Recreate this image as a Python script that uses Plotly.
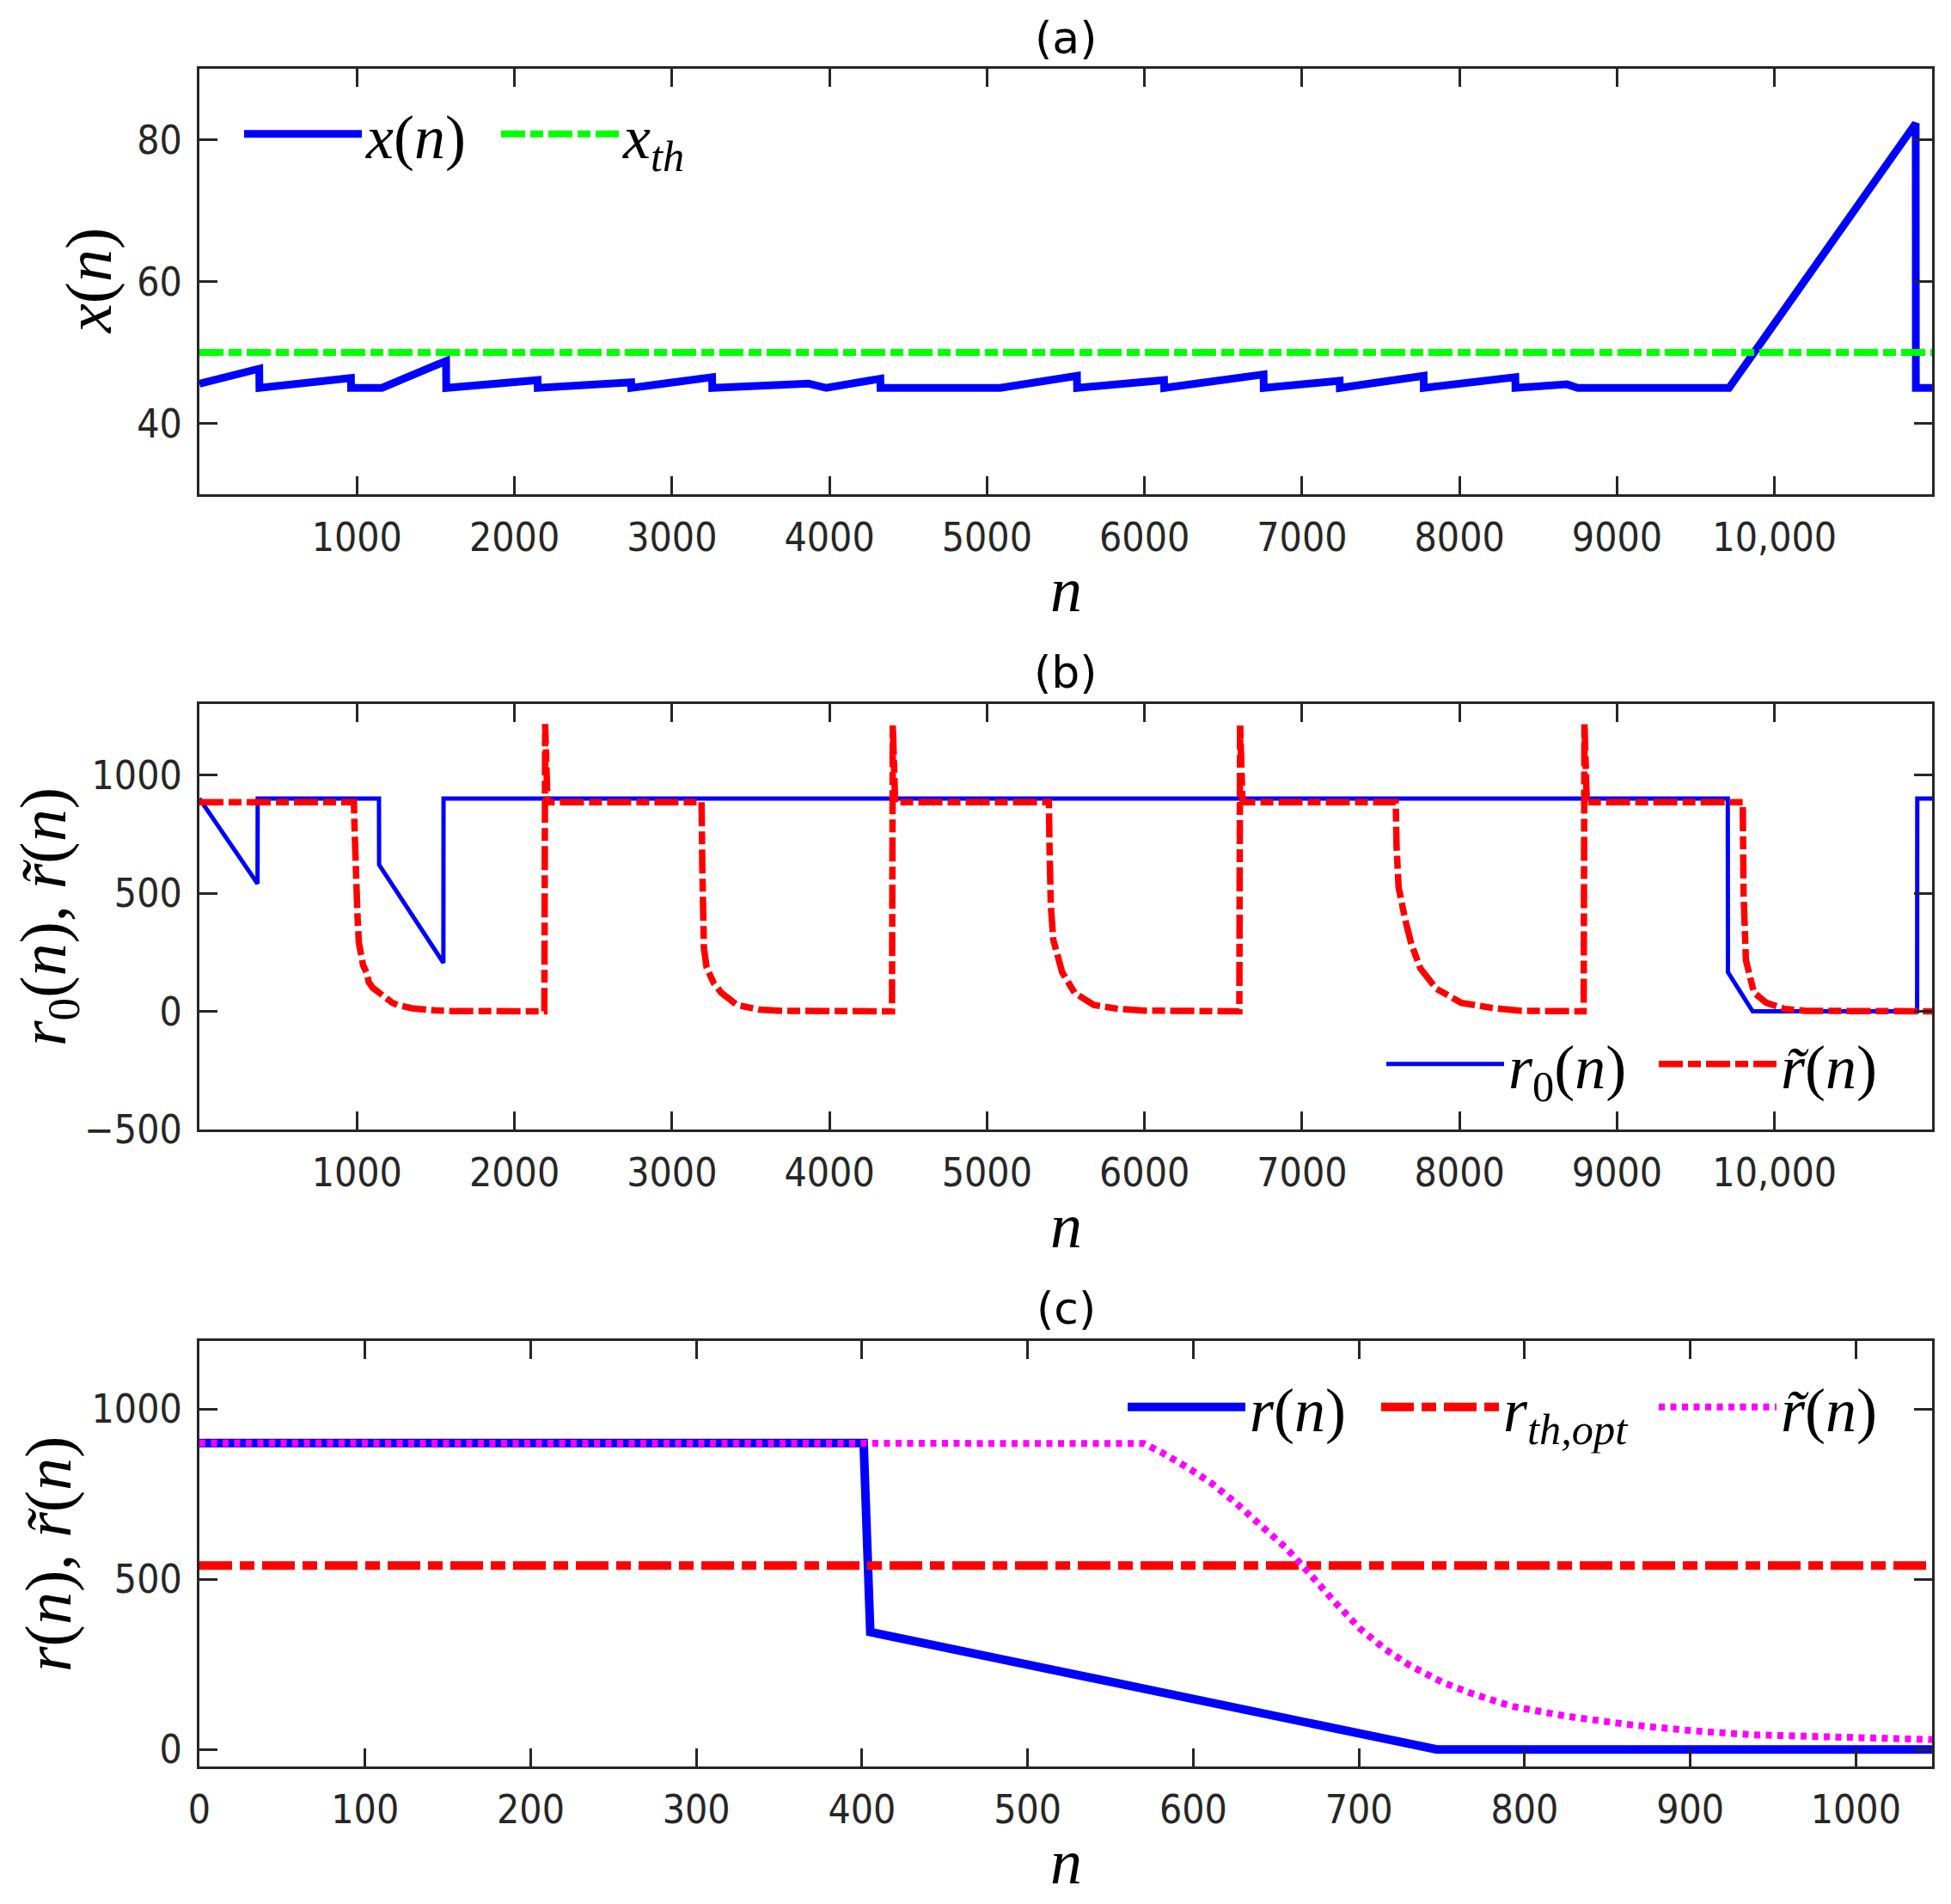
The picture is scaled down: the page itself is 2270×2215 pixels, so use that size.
import plotly.graph_objects as go

W, H = 2270, 2215

# ---------------- panel (a) data ----------------
n_a = [0, 380, 381, 962, 963, 1159, 1566, 1567, 2147, 2148, 2741, 2742, 3255, 3256,
       3868, 3980, 4323, 4324, 5085, 5571, 5572, 6124, 6125, 6756, 6757, 7239, 7240,
       7772, 7773, 8354, 8355, 8683, 8750, 9711, 10896, 10897, 11000]
x_a = [45.6, 47.7, 45.0, 46.4, 45.0, 45.0, 48.8, 45.0, 46.1, 45.0, 45.8, 45.0, 46.5, 45.0,
       45.6, 45.0, 46.3, 45.0, 45.0, 46.7, 45.0, 46.1, 45.0, 46.9, 45.0, 46.0, 45.0,
       46.7, 45.0, 46.5, 45.0, 45.5, 45.0, 45.0, 82.3, 45.0, 45.0]
n_xth = [0, 11000]
x_th = [50, 50]

# ---------------- panel (b) data ----------------
n_r0 = [0, 369, 370, 1140, 1141, 1549, 1550, 9703, 9704, 9861, 10905, 10906, 11000]
r0 = [900, 540, 900, 900, 620, 205, 900, 900, 165, 0, 0, 900, 900]

n_rt = [0, 981, 985, 989, 994, 1003, 1012, 1021, 1039, 1061, 1076, 1100, 1141, 1222, 1257,
        1349, 1494, 1600, 2190, 2195, 2210,
        3188, 3193, 3203, 3220, 3235, 3265, 3314, 3413, 3551, 3700, 4397, 4402, 4417,
        5393, 5397, 5405, 5421, 5450, 5478, 5557, 5678, 5836, 6000, 6602, 6607, 6622,
        7595, 7600, 7613, 7655, 7694, 7751, 7852, 8010, 8208, 8395, 8788, 8793, 8808,
        9798, 9803, 9818, 9869, 9948, 10065, 10200, 11000]
rt = [885, 885, 777, 650, 535, 414, 292, 250, 195, 164, 122, 100, 78, 37, 27,
      13, 4, 1, 0, 1215, 885,
      885, 600, 267, 185, 164, 120, 78, 27, 7, 2, 0, 1210, 885,
      885, 700, 450, 302, 220, 164, 78, 27, 10, 3, 0, 1220, 885,
      885, 700, 525, 388, 285, 182, 96, 36, 14, 2, 0, 1220, 885,
      885, 500, 216, 79, 36, 10, 2, 0]

# ---------------- panel (c) data ----------------
n_r = [0, 401, 405, 747, 1046]
r_c = [900, 900, 345, 0, 0]
n_rth = [0, 1046]
r_th = [540, 540]
n_rtc = [0, 570, 581, 596, 611, 626, 641, 656, 664, 671, 686, 701, 716, 731, 750, 769,
         792, 826, 863, 901, 938, 976, 1014, 1046]
rt_c = [900, 899, 872, 830, 782, 723, 657, 592, 550, 510, 430, 353, 294, 246, 198, 163,
        127, 97, 73, 55, 43, 38, 31, 29]

# ---------------- ticks ----------------
ticks_ab = [1000, 2000, 3000, 4000, 5000, 6000, 7000, 8000, 9000, 10000]
ticktext_ab = ["1000", "2000", "3000", "4000", "5000", "6000", "7000", "8000", "9000", "10,000"]
yticks_a = [40, 60, 80]
yticks_b = [-500, 0, 500, 1000]
yticktext_b = ["\u2212500", "0", "500", "1000"]
yticks_c = [0, 500, 1000]
xticks_c = [0, 100, 200, 300, 400, 500, 600, 700, 800, 900, 1000]

# ---------------- styling ----------------
AX = "#262626"
SANS = "DejaVu Sans Condensed, DejaVu Sans"
TICKFONT = dict(family=SANS, size=46, color=AX)
MATH = "Liberation Serif, DejaVu Serif"
L, R = 232, 2248


def px2x(p):
    return p / W


def px2y(p):
    return 1 - p / H


def axis(**kw):
    d = dict(showline=True, linecolor=AX, linewidth=3, mirror="ticks", ticks="inside",
             ticklen=21, tickwidth=3, tickcolor=AX, showgrid=False, zeroline=False,
             tickfont=TICKFONT, ticklabelstandoff=8, fixedrange=True)
    d.update(kw)
    return d


fig = go.Figure()

# (a)
fig.add_trace(go.Scatter(x=n_a, y=x_a, mode="lines", name="<i>x</i>(<i>n</i>)",
                         line=dict(color="#0000FF", width=9), xaxis="x", yaxis="y",
                         legend="legend", legendwidth=147))
fig.add_trace(go.Scatter(x=n_xth, y=x_th, mode="lines", name="<i>x</i><sub><i>th</i></sub>",
                         line=dict(color="#00FF00", width=8, dash="28px,6px,15px,6px"),
                         xaxis="x", yaxis="y", legend="legend"))
# (b)
fig.add_trace(go.Scatter(x=n_r0, y=r0, mode="lines", name="<i>r</i><sub>0</sub>(<i>n</i>)",
                         line=dict(color="#0000FF", width=5), xaxis="x2", yaxis="y2",
                         legend="legend2", legendwidth=165))
fig.add_trace(go.Scatter(x=n_rt, y=rt, mode="lines", name="<i>r\u0303</i>(<i>n</i>)",
                         line=dict(color="#FF0000", width=7.5, dash="28px,6px,15px,6px"),
                         xaxis="x2", yaxis="y2", legend="legend2"))
# (c)
fig.add_trace(go.Scatter(x=n_r, y=r_c, mode="lines", name="<i>r</i>(<i>n</i>)",
                         line=dict(color="#0000FF", width=10), xaxis="x3", yaxis="y3",
                         legend="legend3", legendwidth=143))
fig.add_trace(go.Scatter(x=n_rth, y=r_th, mode="lines", name="<i>r</i><sub><i>th,opt</i></sub>",
                         line=dict(color="#FF0000", width=10, dash="38px,9px,17px,9px"),
                         xaxis="x3", yaxis="y3", legend="legend3", legendwidth=171))
fig.add_trace(go.Scatter(x=n_rtc, y=rt_c, mode="lines", name="<i>r\u0303</i>(<i>n</i>)",
                         line=dict(color="#FF00FF", width=8, dash="7px,6.5px"),
                         xaxis="x3", yaxis="y3", legend="legend3"))

legfont = dict(family=MATH, size=72, color="black")
legbase = dict(orientation="h", itemwidth=137, font=legfont, bgcolor="rgba(0,0,0,0)",
               borderwidth=0, xanchor="left", yanchor="middle", tracegroupgap=0)

fig.update_layout(
    width=W, height=H, margin=dict(l=0, r=0, t=0, b=0, autoexpand=False),
    paper_bgcolor="white", plot_bgcolor="white",
    xaxis=axis(domain=[px2x(L), px2x(R)], range=[0, 11000], tickvals=ticks_ab,
               ticktext=ticktext_ab, anchor="y"),
    yaxis=axis(domain=[px2y(575), px2y(80)], range=[30, 90], tickvals=yticks_a, anchor="x"),
    xaxis2=axis(domain=[px2x(L), px2x(R)], range=[0, 11000], tickvals=ticks_ab,
                ticktext=ticktext_ab, anchor="y2"),
    yaxis2=axis(domain=[px2y(1314), px2y(819)], range=[-500, 1300], tickvals=yticks_b,
                ticktext=yticktext_b, anchor="x2"),
    xaxis3=axis(domain=[px2x(L), px2x(R)], range=[0, 1046], tickvals=xticks_c, anchor="y3"),
    yaxis3=axis(domain=[px2y(2055), px2y(1560)], range=[-50, 1200], tickvals=yticks_c,
                anchor="x3"),
    legend=dict(legbase, x=px2x(279), y=px2y(156)),
    legend2=dict(legbase, x=px2x(1608), y=px2y(1238)),
    legend3=dict(legbase, x=px2x(1307), y=px2y(1637)),
    showlegend=True,
)

annots = []
# panel titles
for txt, yc in [("(a)", 44), ("(b)", 782), ("(c)", 1522)]:
    annots.append(dict(text=txt, x=px2x(1240), y=px2y(yc), xref="paper", yref="paper",
                       xanchor="center", yanchor="middle", showarrow=False,
                       font=dict(family="DejaVu Sans", size=52, color="black")))
# x-axis titles
for yc in [686, 1426, 2166]:
    annots.append(dict(text="<i>n</i>", x=px2x(1240), y=px2y(yc), xref="paper", yref="paper",
                       xanchor="center", yanchor="middle", showarrow=False,
                       font=dict(family=MATH, size=74, color="black")))
# y-axis titles
for txt, xc, yc in [("<i>x</i>(<i>n</i>)", 104, 327),
                    ("<i>r</i><sub>0</sub>(<i>n</i>), <i>r\u0303</i>(<i>n</i>)", 56, 1067),
                    ("<i>r</i>(<i>n</i>), <i>r\u0303</i>(<i>n</i>)", 56, 1808)]:
    annots.append(dict(text=txt, x=px2x(xc), y=px2y(yc), xref="paper", yref="paper",
                       xanchor="center", yanchor="middle", showarrow=False, textangle=-90,
                       font=dict(family=MATH, size=76, color="black")))
fig.update_layout(annotations=annots)

post = ("document.documentElement.style.overflow='hidden';"
        "document.body.style.margin='0px';document.body.style.overflow='hidden';"
        "var g=document.getElementById('{plot_id}');"
        "g.style.position='absolute';g.style.left='0px';g.style.top='0px';")
fig.write_html("out.html", config={"displayModeBar": False}, post_script=post)
